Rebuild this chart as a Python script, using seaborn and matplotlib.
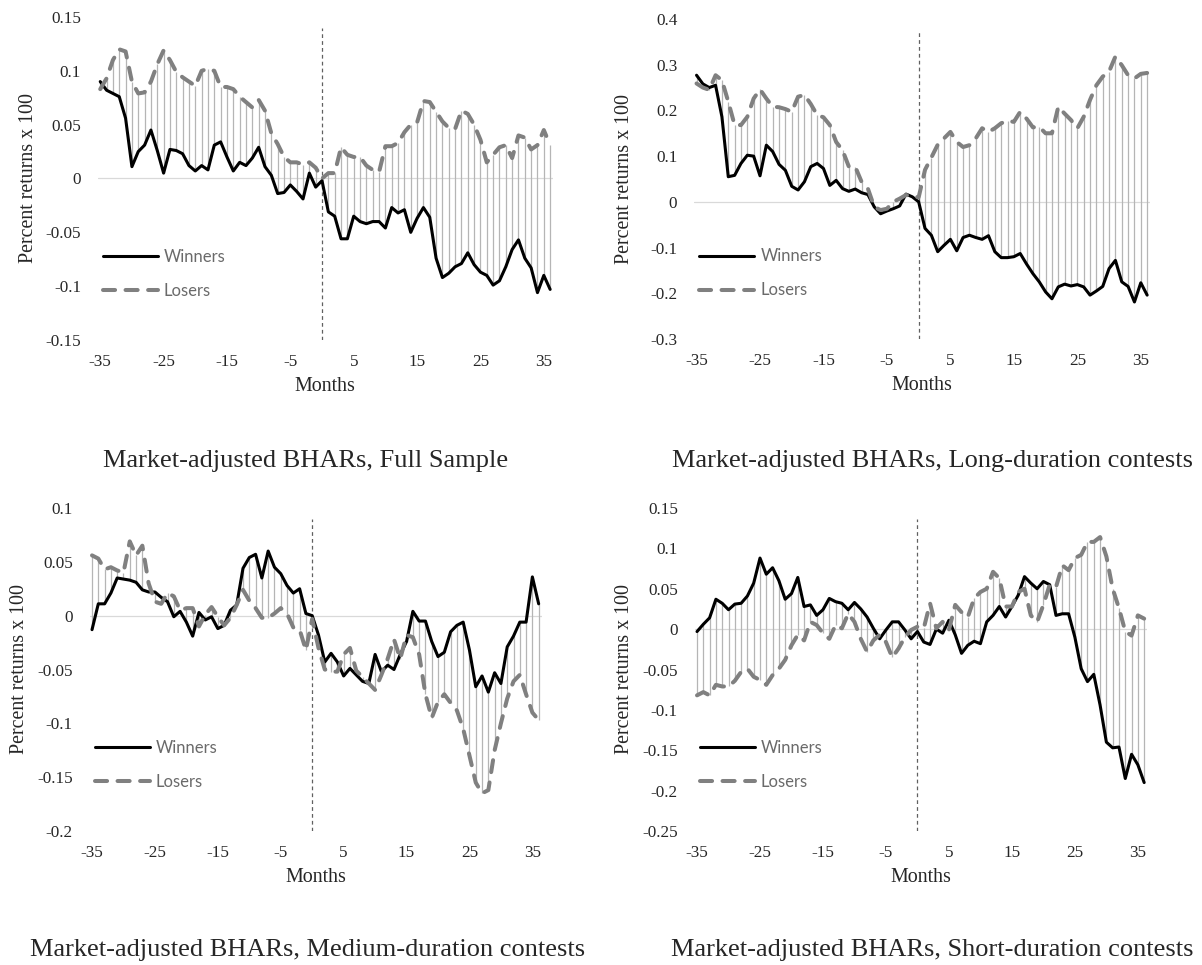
import os
import numpy as np
import pandas as pd
import matplotlib
matplotlib.use('Agg')
import matplotlib.pyplot as plt
import seaborn as sns

os.environ['MPLCONFIGDIR'] = '/tmp'

months = list(range(-35, 37))

# Full sample
full_winners = [0.09, 0.082, 0.079, 0.076, 0.056, 0.011, 0.025, 0.031, 0.045, 0.026,
                0.005, 0.027, 0.026, 0.023, 0.012, 0.007, 0.012, 0.008, 0.031, 0.034,
                0.02, 0.007, 0.015, 0.012, 0.019, 0.029, 0.011, 0.003, -0.014, -0.013,
                -0.006, -0.012, -0.019, 0.005,
                -0.008, -0.002, -0.031, -0.035, -0.056, -0.056, -0.035, -0.04, -0.042, -0.04,
                -0.04, -0.046, -0.027, -0.032, -0.029, -0.05, -0.037, -0.027, -0.036, -0.074,
                -0.092, -0.088, -0.082, -0.079, -0.069, -0.08, -0.087, -0.09, -0.099, -0.095,
                -0.082, -0.066, -0.057, -0.074, -0.083, -0.106, -0.09, -0.103]
full_losers = [0.083, 0.093, 0.11, 0.12, 0.118, 0.09, 0.079, 0.08, 0.09, 0.106,
               0.119, 0.11, 0.099, 0.094, 0.09, 0.086, 0.10, 0.102, 0.10, 0.085,
               0.085, 0.083, 0.076, 0.071, 0.066, 0.073, 0.063, 0.042, 0.032, 0.02,
               0.015, 0.015, 0.013, 0.015,
               0.01, 0.0, 0.005, 0.005, 0.029, 0.022, 0.02, 0.02, 0.012, 0.008,
               0.006, 0.03, 0.03, 0.033, 0.043, 0.05, 0.052, 0.072, 0.071, 0.062,
               0.053, 0.047, 0.046, 0.063, 0.06, 0.05, 0.036, 0.015, 0.022, 0.029,
               0.031, 0.019, 0.04, 0.038, 0.027, 0.031, 0.045, 0.031]

# Long-duration contests
long_winners = [0.277, 0.258, 0.25, 0.255, 0.186, 0.055, 0.058, 0.084, 0.102, 0.1,
                0.057, 0.124, 0.11, 0.082, 0.069, 0.034, 0.026, 0.044, 0.077, 0.084,
                0.073, 0.036, 0.047, 0.029, 0.023, 0.028, 0.02, 0.016, -0.011, -0.026,
                -0.02, -0.015, -0.009, 0.017,
                0.011, 0.0, -0.058, -0.073, -0.109, -0.095, -0.082, -0.107, -0.078, -0.073,
                -0.078, -0.082, -0.074, -0.109, -0.122, -0.122, -0.12, -0.113, -0.136, -0.157,
                -0.175, -0.197, -0.212, -0.186, -0.18, -0.184, -0.181, -0.186, -0.204, -0.195,
                -0.185, -0.146, -0.128, -0.175, -0.185, -0.219, -0.177, -0.204]
long_losers = [0.259, 0.25, 0.245, 0.277, 0.266, 0.219, 0.168, 0.168, 0.186, 0.226,
               0.246, 0.226, 0.208, 0.207, 0.203, 0.197, 0.23, 0.234, 0.214, 0.19,
               0.185, 0.168, 0.131, 0.113, 0.077, 0.077, 0.044, 0.029, -0.011, -0.018,
               -0.015, 0.0, 0.007, 0.015,
               0.012, 0.01, 0.07, 0.097, 0.125, 0.139, 0.153, 0.131, 0.12, 0.124,
               0.139, 0.161, 0.153, 0.161, 0.172, 0.177, 0.175, 0.197, 0.182, 0.163,
               0.164, 0.15, 0.15, 0.208, 0.193, 0.179, 0.161, 0.186, 0.223, 0.255,
               0.274, 0.285, 0.318, 0.299, 0.277, 0.27, 0.28, 0.282]

# Medium-duration contests
medium_winners = [-0.013, 0.011, 0.011, 0.021, 0.035, 0.034, 0.033, 0.031, 0.024, 0.022,
                  0.022, 0.017, 0.013, -0.001, 0.004, -0.006, -0.019, 0.003, -0.004, -0.001,
                  -0.012, -0.009, 0.005, 0.01, 0.044, 0.054, 0.057, 0.035, 0.06, 0.045,
                  0.039, 0.028, 0.021, 0.025, 0.002,
                  0.0, -0.018, -0.043, -0.035, -0.043, -0.056, -0.049, -0.055, -0.061, -0.063,
                  -0.036, -0.052, -0.046, -0.05, -0.036, -0.024, 0.004, -0.005, -0.005, -0.024,
                  -0.038, -0.034, -0.015, -0.009, -0.006, -0.032, -0.066, -0.056, -0.071, -0.053,
                  -0.063, -0.029, -0.019, -0.006, -0.006, 0.036, 0.011]
medium_losers = [0.056, 0.053, 0.043, 0.045, 0.042, 0.04, 0.069, 0.056, 0.065, 0.03,
                 0.013, 0.011, 0.021, 0.018, 0.005, 0.007, 0.007, -0.01, 0.001, 0.008,
                 -0.001, -0.009, -0.002, 0.01, 0.024, 0.014, 0.007, -0.002, -0.002, 0.002,
                 0.007, 0.002, -0.011, -0.013, -0.032,
                 -0.003, -0.03, -0.05, -0.052, -0.052, -0.036, -0.03, -0.051, -0.057, -0.063,
                 -0.069, -0.055, -0.04, -0.022, -0.04, -0.018, -0.02, -0.036, -0.073, -0.095,
                 -0.08, -0.073, -0.081, -0.088, -0.105, -0.13, -0.155, -0.165, -0.162, -0.125,
                 -0.1, -0.077, -0.061, -0.055, -0.073, -0.09, -0.097]

# Short-duration contests
short_winners = [-0.003, 0.006, 0.014, 0.037, 0.032, 0.024, 0.031, 0.032, 0.041, 0.057,
                 0.088, 0.068, 0.076, 0.06, 0.037, 0.044, 0.064, 0.028, 0.03, 0.017,
                 0.024, 0.038, 0.034, 0.032, 0.024, 0.033, 0.025, 0.015, 0.001, -0.012,
                 -0.001, 0.009, 0.009, -0.001, -0.012,
                 -0.003, -0.016, -0.019, 0.0, -0.005, 0.011, -0.007, -0.03, -0.02, -0.015,
                 -0.018, 0.009, 0.017, 0.028, 0.015, 0.028, 0.042, 0.065, 0.057, 0.05,
                 0.059, 0.055, 0.017, 0.019, 0.019, -0.01, -0.049, -0.065, -0.056, -0.094,
                 -0.14, -0.147, -0.146, -0.185, -0.155, -0.168, -0.19]
short_losers = [-0.082, -0.078, -0.082, -0.069, -0.071, -0.071, -0.064, -0.053, -0.049, -0.059,
                -0.063, -0.069, -0.057, -0.049, -0.038, -0.02, -0.007, -0.014, 0.009, 0.005,
                -0.005, -0.012, 0.005, 0.001, 0.019, 0.009, -0.012, -0.028, -0.014, -0.007,
                -0.016, -0.035, -0.024, -0.01, -0.001,
                0.003, 0.001, 0.032, 0.001, 0.009, -0.001, 0.03, 0.021, 0.015, 0.038,
                0.046, 0.05, 0.071, 0.063, 0.028, 0.028, 0.046, 0.05, 0.017, 0.009,
                0.03, 0.055, 0.052, 0.079, 0.073, 0.088, 0.092, 0.108, 0.108, 0.114,
                0.09, 0.05, 0.026, -0.003, -0.008, 0.017, 0.013]

full_yticks = [-0.15, -0.1, -0.05, 0, 0.05, 0.1, 0.15]
long_yticks = [-0.3, -0.2, -0.1, 0, 0.1, 0.2, 0.3, 0.4]
medium_yticks = [-0.2, -0.15, -0.1, -0.05, 0, 0.05, 0.1]
short_yticks = [-0.25, -0.2, -0.15, -0.1, -0.05, 0, 0.05, 0.1, 0.15]

xticks = list(range(-35, 36, 10))

titles = ["Market-adjusted BHARs, Full Sample",
          "Market-adjusted BHARs, Long-duration contests",
          "Market-adjusted BHARs, Medium-duration contests",
          "Market-adjusted BHARs, Short-duration contests"]

sns.set_style('white')
plt.rcParams['font.family'] = ['Liberation Serif', 'DejaVu Serif']

W, H = 1202, 965
fig = plt.figure(figsize=(W / 100, H / 100), dpi=100)


def px_axes(left, top, right, bottom):
    return fig.add_axes([left / W, 1 - bottom / H, (right - left) / W, (bottom - top) / H])


def fmt(v):
    s = f"{round(v, 2):g}"
    return '0' if s in ('0', '-0') else s


def draw_panel(ax, winners, losers, yticks, width_px):
    df = pd.DataFrame({'Months': months, 'Winners': winners, 'Losers': losers})
    lo = df[['Winners', 'Losers']].min(axis=1)
    hi = df[['Winners', 'Losers']].max(axis=1)

    # high-low lines, zero line and event month marker
    ax.vlines(df['Months'], lo, hi, color='#b5b5b5', lw=0.9, zorder=1)
    ax.axhline(0, color='#d9d9d9', lw=0.9, zorder=0)
    ax.axvline(0, ymin=0, ymax=0.966, color='#606060', lw=0.9, ls=(0, (3, 2.5)), zorder=1)

    sns.lineplot(data=df, x='Months', y='Winners', ax=ax, color='black',
                 lw=2.2, label='Winners', zorder=3)
    sns.lineplot(data=df, x='Months', y='Losers', ax=ax, color='#808080',
                 lw=2.9, ls=(0, (3.0, 2.6)), dash_capstyle='round', label='Losers', zorder=4)

    ax.set_xlim(-35.4, 36.45)
    ax.set_ylim(yticks[0], yticks[-1])
    ax.set_xticks(xticks)
    ax.set_xticklabels([str(t) for t in xticks], fontsize=12.3)
    ax.set_yticks(yticks)
    ax.set_yticklabels([fmt(v) for v in yticks], fontsize=12.3)
    ax.tick_params(length=0)
    ax.tick_params(axis='x', pad=10)
    ax.tick_params(axis='y', pad=12)
    sns.despine(ax=ax, left=True, bottom=True)

    ax.set_xlabel('Months', fontsize=14.4)
    ax.set_ylabel('Percent returns x 100', fontsize=14.4)
    ax.xaxis.set_label_coords(0.5, -0.115)
    ax.yaxis.set_label_coords(-60 / width_px, 0.5)

    ax.legend(loc='upper left', bbox_to_anchor=(0.012, 0.283), frameon=False,
              prop={'family': 'Lato', 'size': 12}, labelcolor='#6a6a6a',
              handlelength=3.3, handletextpad=0.35, labelspacing=1.08, borderpad=0,
              borderaxespad=0)


ax1 = px_axes(97.7, 17, 553, 340)
draw_panel(ax1, full_winners, full_losers, full_yticks, 455)
ax2 = px_axes(694, 19, 1150, 339)
draw_panel(ax2, long_winners, long_losers, long_yticks, 456)
ax3 = px_axes(89.5, 508, 541.5, 831)
draw_panel(ax3, medium_winners, medium_losers, medium_yticks, 452)
ax4 = px_axes(694.5, 508, 1147, 831)
draw_panel(ax4, short_winners, short_losers, short_yticks, 452)

title_pos = [(306, 461), (932, 461), (308, 950), (932, 950)]
for (tx, ty), t in zip(title_pos, titles):
    fig.text(tx / W, 1 - ty / H, t, ha='center', va='center', fontsize=19)

fig.savefig('out.png', dpi=100)
